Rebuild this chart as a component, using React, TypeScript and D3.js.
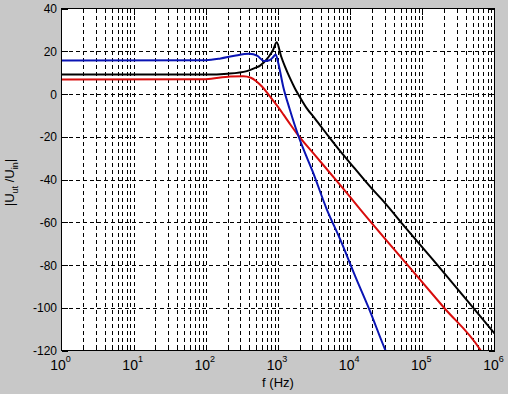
import React from 'react';
import * as d3 from 'd3';

// frequency (Hz) / magnitude (dB)
const blueFreq = [1, 100, 160, 250, 400, 520, 640, 760, 860, 930, 1000, 1186, 1450, 1910, 2240, 3000, 4710, 7200, 12000, 18700, 30200, 36000];
const blueDb = [15.7, 15.8, 16.6, 17.9, 18.8, 17.8, 15.4, 15.8, 17.3, 18.5, 15.0, 3.2, -7.0, -19.4, -25.6, -36, -53.7, -67.7, -86, -101.3, -119.2, -125];

const blackFreq = [1, 100, 200, 370, 481, 565, 735, 850, 960, 1100, 1250, 1466, 1718, 2000, 2494, 3250, 4966, 7000, 10000, 20000, 28600, 60000, 156000, 400000, 1000000];
const blackDb = [9.1, 9.1, 9.5, 10.7, 12.2, 13.3, 17.2, 20.5, 24.2, 17.8, 12.8, 7.4, 2.6, -1.3, -6.6, -11.5, -19.6, -26, -32.3, -44.3, -50, -63, -79.4, -95.8, -112];

const redFreq = [1, 100, 218, 330, 420, 500, 600, 700, 800, 1000, 1200, 1500, 1910, 3250, 7200, 13600, 60200, 200000, 621000, 700000];
const redDb = [6.8, 6.9, 8.2, 8.3, 7.6, 6.0, 3.5, 0.8, -1.8, -6.0, -9.8, -14.5, -19.4, -28.6, -42.4, -53.7, -79.4, -100, -119.2, -122];

const yTicks = [-120, -100, -80, -60, -40, -20, 0, 20, 40];
const xDecades = [0, 1, 2, 3, 4, 5, 6];

const W = 508;
const H = 394;
const left = 61.5;
const right = 494.5;
const top = 8.5;
const bottom = 350.5;

export default function App() {
  const x = d3.scaleLog().domain([1, 1e6]).range([left, right]);
  const y = d3.scaleLinear().domain([-120, 40]).range([bottom, top]);

  const line = d3
    .line<number>()
    .curve(d3.curveMonotoneX);

  const makePath = (fs: number[], dbs: number[]) =>
    line.x((d, i) => x(fs[i])).y((d) => y(d))(dbs) || '';

  const series = [
    { f: redFreq, db: redDb, color: '#d80c0c' },
    { f: blackFreq, db: blackDb, color: '#000000' },
    { f: blueFreq, db: blueDb, color: '#0a14b4' },
  ];

  // minor grid positions 2..9 in each decade
  const minor: number[] = [];
  for (let d = 0; d < 6; d++) {
    for (let m = 2; m <= 9; m++) minor.push(m * Math.pow(10, d));
  }
  const majorInner = xDecades.slice(1, -1).map((d) => Math.pow(10, d));

  const font = '"Liberation Sans", Arial, sans-serif';

  return (
    <svg width={W} height={H} style={{ position: 'absolute', left: 0, top: 0 }} fontFamily={font}>
      <defs>
        <clipPath id="plot">
          <rect x={left} y={top} width={right - left} height={bottom - top} />
        </clipPath>
      </defs>
      <rect width={W} height={H} fill="#c8c8c8" />
      <rect x={left} y={top} width={right - left} height={bottom - top} fill="#fff" />

      {/* grid */}
      <g stroke="#000" strokeWidth={1} strokeDasharray="4,3" shapeRendering="crispEdges">
        {[...minor, ...majorInner].map((v) => (
          <line key={'gx' + v} x1={Math.round(x(v)) + 0.5} x2={Math.round(x(v)) + 0.5} y1={top} y2={bottom} />
        ))}
        {yTicks.slice(1, -1).map((v) => (
          <line key={'gy' + v} x1={left} x2={right} y1={Math.round(y(v)) + 0.5} y2={Math.round(y(v)) + 0.5} />
        ))}
      </g>

      {/* ticks */}
      <g stroke="#000" strokeWidth={1} shapeRendering="crispEdges">
        {majorInner.map((v) => (
          <g key={'tx' + v}>
            <line x1={Math.round(x(v)) + 0.5} x2={Math.round(x(v)) + 0.5} y1={bottom} y2={bottom - 6} />
            <line x1={Math.round(x(v)) + 0.5} x2={Math.round(x(v)) + 0.5} y1={top} y2={top + 6} />
          </g>
        ))}
        {minor.map((v) => (
          <g key={'tm' + v}>
            <line x1={Math.round(x(v)) + 0.5} x2={Math.round(x(v)) + 0.5} y1={bottom} y2={bottom - 3} />
            <line x1={Math.round(x(v)) + 0.5} x2={Math.round(x(v)) + 0.5} y1={top} y2={top + 3} />
          </g>
        ))}
        {yTicks.map((v) => (
          <g key={'ty' + v}>
            <line x1={left} x2={left + 6} y1={Math.round(y(v)) + 0.5} y2={Math.round(y(v)) + 0.5} />
            <line x1={right} x2={right - 6} y1={Math.round(y(v)) + 0.5} y2={Math.round(y(v)) + 0.5} />
          </g>
        ))}
      </g>

      {/* curves */}
      <g clipPath="url(#plot)" fill="none" strokeWidth={2} strokeLinejoin="round">
        {series.map((s) => (
          <path key={s.color} d={makePath(s.f, s.db)} stroke={s.color} />
        ))}
      </g>

      {/* box */}
      <rect x={left} y={top} width={right - left} height={bottom - top} fill="none" stroke="#000" strokeWidth={1} />

      {/* y tick labels */}
      <g fontSize={12} textAnchor="end" fill="#000">
        {yTicks.map((v) => (
          <text key={'ly' + v} x={57} y={y(v) + 4.5}>
            {v}
          </text>
        ))}
      </g>

      {/* x tick labels */}
      <g fill="#000">
        {xDecades.map((d) => (
          <text key={'lx' + d} x={x(Math.pow(10, d)) - 1} y={370} textAnchor="middle"
            fontSize={14} fontFamily={'"Liberation Sans Narrow", "Liberation Sans", Arial, sans-serif'}>
            10
            <tspan fontSize={9} dy={-8}>{d}</tspan>
          </text>
        ))}
      </g>

      <text x={(left + right) / 2} y={387} textAnchor="middle" fontSize={13} fill="#000">
        f (Hz)
      </text>

      <text transform={`translate(14, ${(top + bottom) / 2 + 3}) rotate(-90)`} textAnchor="middle" fontSize={13} fill="#000">
        |U<tspan fontSize={9} dy={4}>ut</tspan>
        <tspan dy={-4}> /U</tspan>
        <tspan fontSize={9} dy={4}>in</tspan>
        <tspan dy={-4}>|</tspan>
      </text>
    </svg>
  );
}
